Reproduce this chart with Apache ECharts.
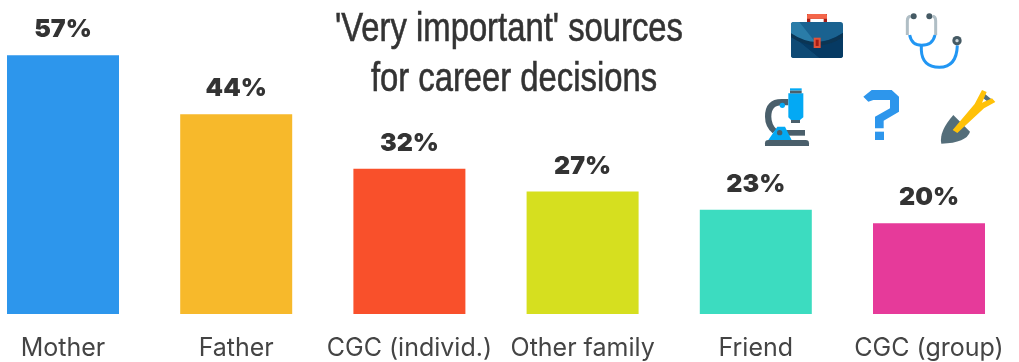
<!DOCTYPE html>
<html>
<head>
<meta charset="utf-8">
<style>html,body{margin:0;padding:0;background:#fff}#chart{width:1019px;height:362px}</style>
<script src="https://cdn.jsdelivr.net/npm/echarts@6/dist/echarts.min.js"></script>
</head>
<body>
<div id="chart"></div>
<script>
// Share of respondents rating each source 'very important'
const categories = ['Mother', 'Father', 'CGC (individ.)', 'Other family', 'Friend', 'CGC (group)'];
const shares = [57, 44, 32, 27, 23, 20];
const barColors = ['#2D96EC', '#F7B92B', '#F9502B', '#D6DF1F', '#3CDCC0', '#E63A9A'];
const titleLines = ["'Very important' sources", 'for career decisions'];

// Small decorative icons, authored on a 3x design grid and scaled down as a group
const iconShapes = [
  // briefcase
  ['M201 42H261V66H251V56H211V66H201Z', '#A61C14'],
  ['M201 46Q201 42 205 42H257Q261 42 261 46V56H201Z', '#F4664A'],
  ['M161 66H301Q309 66 309 74V166Q309 174 301 174H161Q153 174 153 166V74Q153 66 161 66Z', '#1A6290'],
  ['M237 174L153 106V166Q153 174 161 174Z', '#0E4A75'],
  ['M237 174L153 106Q231 150 309 98V166Q309 174 301 174Z', '#063A63'],
  ['M153 74Q153 66 161 66H178L232 134Q190 130 153 100Z', '#2A7CA8'],
  ['M153 100Q231 152 309 100V112Q231 162 153 112Z', '#0B3554'],
  ['M221 113H242V144H221Z', '#E0533A'],
  ['M227 119H236V138H227Z', '#A61C14'],
  // microscope
  ['M75 430Q75 420 85 420H197Q207 420 207 430V438H75Z', '#4A5F6B'],
  ['M135 390H195V407H135Z', '#4A5F6B'],
  ['M145 297H125Q75 297 75 350Q75 380 98 400L110 388Q94 372 94 350Q94 316 125 316H145Z', '#4A5F6B'],
  ['M85 420L112 380H135L155 420Z', '#03A9F4'],
  ['M145 280H190V352L180 360H153L145 352Z', '#03A9F4'],
  ['M150 265H185V272H150Z', '#03A9F4'],
  ['M150 272H185V280H150Z', '#4A5F6B'],
  ['M153 360H180V369H153Z', '#4A5F6B'],
  // question mark
  ['M370 290L395 270H455L477 290V335L431 362V385H405V350L450 325V300H400L385 305Z', '#2D96EC'],
  ['M405 395H432V420H405Z', '#2D96EC'],
  // shovel
  ['M640 345L690 395Q680 428 604 431Q596 395 640 345Z', '#546E7A'],
  ['M735 282L761 303L752 312L724 290Z', '#546E7A'],
  ['M638 390L704 312L726 270L740 276L726 308L756 295L766 306L732 325L652 399Z', '#FFC107']
];
const iconCircles = [
  [127, 316, 8, '#03A9F4'],
  [119, 398, 8, '#4A5F6B'],
  [521, 49, 9, '#455A64'],
  [568, 49, 9, '#455A64'],
  [651, 122, 14, '#455A64'],
  [651, 122, 5, '#CFD8DC']
];
// stethoscope tubing
const iconStrokes = [
  ['M512 49Q502 50 502 62V105', '#B0BEC5'],
  ['M578 49Q587 50 587 62V105', '#B0BEC5'],
  ['M509 105Q515 136 545 136Q578 136 585 105', '#2196F3'],
  ['M544 136V150Q546 201 598 202Q650 201 652 136', '#2196F3']
];

// Each icon outline becomes a named shape the graphic component can build
function makeIconElement(d, name, style) {
  echarts.graphic.registerShape(name, echarts.graphic.extendPath(d, {}));
  return { type: name, style };
}

const iconChildren = [
  ...iconShapes.map(([d, fill], i) => makeIconElement(d, 'iconFill' + i, { fill })),
  ...iconStrokes.map(([d, stroke], i) => makeIconElement(d, 'iconLine' + i, { fill: null, stroke, lineWidth: 9 })),
  ...iconCircles.map(([cx, cy, r, fill]) => ({ type: 'circle', shape: { cx, cy, r }, style: { fill } }))
];

// The heading is set in a regular sans squeezed to a condensed width
function titleLine(text, x, y) {
  return {
    type: 'text',
    x,
    y,
    scaleX: 0.8,
    silent: true,
    style: {
      text,
      fontFamily: '"Liberation Sans", sans-serif',
      fontSize: 41,
      fill: '#333',
      stroke: '#333',
      lineWidth: 0.6,
      align: 'center',
      verticalAlign: 'top'
    }
  };
}

const chart = echarts.init(document.getElementById('chart'), null, { renderer: 'canvas' });
chart.setOption({
  animation: false,
  backgroundColor: '#fff',
  // points sit on the axis ends, so the grid spans first to last bar centre
  grid: { left: 63, right: 90, top: 0, bottom: 48 },
  xAxis: {
    type: 'category',
    boundaryGap: false,
    data: categories,
    axisLine: { show: false },
    axisTick: { show: false },
    axisLabel: {
      interval: 0,
      margin: 22,
      fontFamily: 'Inter, "Noto Sans", sans-serif',
      fontSize: 25,
      color: '#444'
    }
  },
  yAxis: {
    type: 'value',
    min: 0,
    max: 69.2,
    show: false
  },
  series: [{
    type: 'bar',
    barWidth: 112,
    clip: false,
    data: shares.map((value, i) => ({ value, itemStyle: { color: barColors[i] } })),
    label: {
      show: true,
      position: 'top',
      distance: 13,
      formatter: '{c}%',
      fontFamily: 'Inter, "Noto Sans", sans-serif',
      fontWeight: 900,
      fontSize: 25,
      color: '#333'
    }
  }],
  graphic: [
    titleLine(titleLines[0], 509, 9),
    titleLine(titleLines[1], 514, 59),
    {
      type: 'group',
      x: 740,
      y: 0,
      scaleX: 1 / 3,
      scaleY: 1 / 3,
      silent: true,
      children: iconChildren
    }
  ]
});
</script>
</body>
</html>
